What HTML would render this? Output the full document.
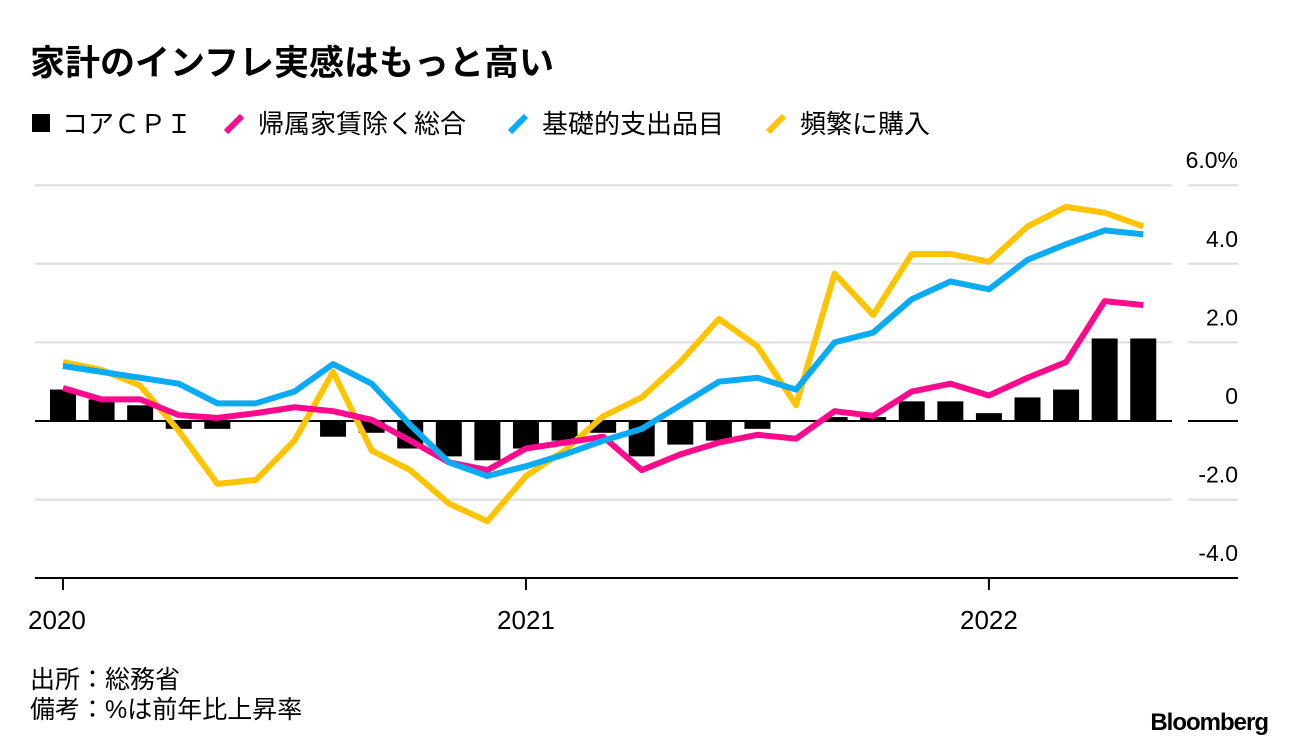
<!DOCTYPE html>
<html><head><meta charset="utf-8"><style>
body{margin:0;background:#fff;width:1296px;height:748px;overflow:hidden;font-family:"Liberation Sans","Noto Sans CJK JP",sans-serif;}
svg text{font-family:"Liberation Sans","Noto Sans CJK JP",sans-serif;}
</style></head><body>
<svg id="c" width="1296" height="748">
<text x="30" y="75" font-size="35" font-weight="bold" fill="#000">家計のインフレ実感はもっと高い</text>
<g>
<rect x="32" y="114" width="18" height="18" fill="#000"/>
<text x="62" y="133" font-size="26">コアＣＰＩ</text>
<line x1="226" y1="132" x2="242" y2="116" stroke="#ff0a8c" stroke-width="6"/>
<text x="258" y="133" font-size="26">帰属家賃除く総合</text>
<line x1="510" y1="132" x2="526" y2="116" stroke="#0aabf5" stroke-width="6"/>
<text x="542" y="133" font-size="26">基礎的支出品目</text>
<line x1="768" y1="132" x2="784" y2="116" stroke="#ffc400" stroke-width="6"/>
<text x="800" y="133" font-size="26">頻繁に購入</text>
</g>
<g id="grid"></g><g id="bars"></g><g id="lines"></g><g id="axes"></g>
<text x="30" y="688" font-size="25">出所：総務省</text>
<text x="30" y="718" font-size="25">備考：%は前年比上昇率</text>
<text x="1268" y="730" font-size="24" font-weight="bold" text-anchor="end" letter-spacing="-1">Bloomberg</text>
</svg>
<script>
const months=29;
const yTicks=[6,4,2,0,-2,-4];
const yTickLabels=["6.0%","4.0","2.0","0","-2.0","-4.0"];
const xYears=["2020","2021","2022"];
const core=[0.8,0.55,0.4,-0.2,-0.2,0,0,-0.4,-0.3,-0.7,-0.9,-1.0,-0.7,-0.5,-0.3,-0.9,-0.6,-0.5,-0.2,0,0.1,0.1,0.5,0.5,0.2,0.6,0.8,2.1,2.1];
const pink=[0.84,0.55,0.55,0.15,0.08,0.2,0.35,0.25,0.03,-0.5,-1.05,-1.25,-0.7,-0.55,-0.4,-1.25,-0.85,-0.55,-0.35,-0.45,0.25,0.13,0.75,0.95,0.65,1.1,1.5,3.05,2.95];
const blue=[1.4,1.25,1.1,0.95,0.45,0.45,0.75,1.45,0.95,-0.1,-1.05,-1.4,-1.15,-0.85,-0.5,-0.2,0.4,1.0,1.1,0.8,2.0,2.25,3.1,3.55,3.35,4.1,4.5,4.85,4.75];
const yellow=[1.5,1.3,0.9,-0.25,-1.6,-1.5,-0.5,1.25,-0.75,-1.25,-2.1,-2.55,-1.4,-0.75,0.12,0.6,1.5,2.6,1.9,0.4,3.75,2.7,4.25,4.25,4.05,4.95,5.45,5.3,4.95];
const NS="http://www.w3.org/2000/svg";
const X=i=>63+i*38.58;
const Y=v=>421-v*39.3;
function mk(t,a,p){const e=document.createElementNS(NS,t);for(const k in a)e.setAttribute(k,a[k]);document.getElementById(p).appendChild(e);return e;}
yTicks.forEach((t,i)=>{
 if(t===-4)return;
 const g=mk('line',{x1:35,x2:1172,y1:Y(t),y2:Y(t),stroke:t===0?'#000':'#ddd','stroke-width':2},'grid');
 
 
 const s=mk('line',{x1:1188,x2:1238,y1:Y(t),y2:Y(t),stroke:t===0?'#000':'#ddd','stroke-width':2},'grid');
 
 
});
yTicks.forEach((t,i)=>{
 const l=mk('text',{x:1238,y:Y(t)-17,'font-size':23,'text-anchor':'end'},'axes');
 l.textContent=yTickLabels[i];
 
 
});
core.forEach((v,i)=>{
 const b=mk('rect',{x:X(i)-13,width:26,y:Math.min(Y(v),Y(0)),height:Math.abs(Y(v)-Y(0)),fill:'#000'},'bars');
 
 
});
[[yellow,'#ffc400','line-frequent-purchase'],[pink,'#ff0a8c','line-excl-imputed-rent'],[blue,'#0aabf5','line-basic-items']].forEach(([d,c,n])=>{
 const p=mk('polyline',{points:d.map((v,i)=>X(i)+','+Y(v)).join(' '),fill:'none',stroke:c,'stroke-width':6,'stroke-linejoin':'round'},'lines');
 
 
});
const ax=mk('line',{x1:35,x2:1238,y1:578,y2:578,stroke:'#000','stroke-width':2},'axes');


xYears.forEach((y,k)=>{
 const tx=X(k*12);
 const t=mk('line',{x1:tx,x2:tx,y1:578,y2:590,stroke:'#000','stroke-width':2},'axes');
 
 
 const l=mk('text',{x:tx,y:629,'font-size':26,'text-anchor':k===0?'start':'middle'},'axes');
 if(k===0)l.setAttribute('x',tx-35);
 l.textContent=y;
 
 
});
</script>
</body></html>
